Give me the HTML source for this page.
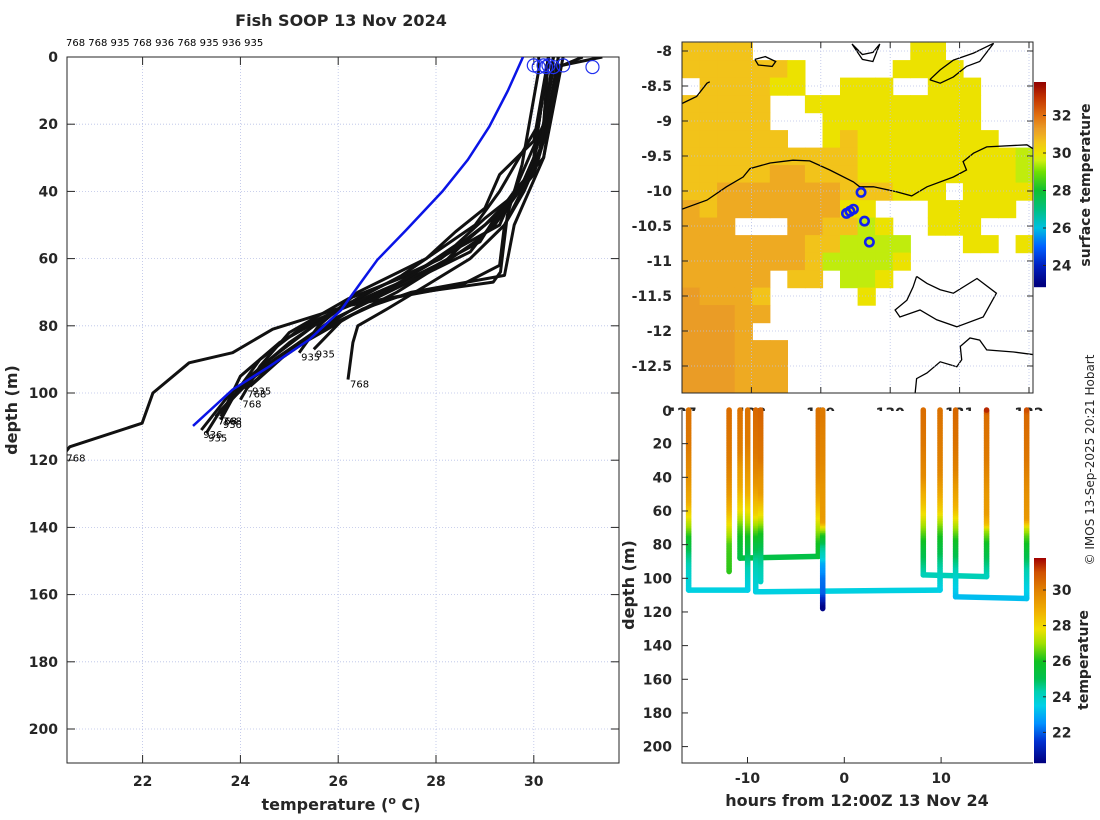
<!DOCTYPE html>
<html><head><meta charset="utf-8">
<style>
html,body{margin:0;padding:0;background:#fff;}
svg{display:block;font-family:"DejaVu Sans","Liberation Sans",sans-serif;}
.tk{font-size:14px;font-weight:bold;fill:#262626;}
.lb{font-size:16px;font-weight:bold;fill:#262626;}
</style></head>
<body>
<svg id="chart" width="1100" height="820" viewBox="0 0 1100 820" xmlns="http://www.w3.org/2000/svg">
<defs>
<clipPath id="clipL"><rect x="67" y="57" width="552" height="706"/></clipPath>
<clipPath id="clipM"><rect x="682" y="42" width="351" height="351"/></clipPath>
<clipPath id="clipB"><rect x="682" y="400" width="351" height="363"/></clipPath>
<clipPath id="clipLon"><rect x="600" y="395" width="460" height="16"/></clipPath>
</defs>
<rect x="0" y="0" width="1100" height="820" fill="#fff"/>
<g id="gL"></g>
<g id="gM"></g>
<g id="gB"></g>
</svg>
<script>
// ---------- data ----------
const castIds   = ['768','768','935','768','936','768','935','768','935','768','936','768','935'];
const castHours = [-16.08,-11.9,-10.77,-9.98,-9.15,-8.64,-2.68,-2.23,8.16,9.89,11.5,14.7,18.84];
const castDepths = [
 [0,20,30,40,48,55,62,70,76,85,95,107],
 [0,30,40,50,60,68,75,80,85,96],
 [0,25,35,45,52,60,70,80,88],
 [0,20,30,40,50,58,65,75,85,95,107],
 [0,25,35,45,55,62,70,80,90,100,108],
 [0,30,40,50,58,64,72,82,92,102],
 [0,30,40,50,55,60,70,78,87],
 [0,4,32,47,64,67,70,74,81,88,91,100,109,116,118],
 [0,20,30,40,48,56,65,75,85,98],
 [0,30,38,50,60,70,80,90,107],
 [0,20,35,45,58,68,78,90,100,111],
 [0,3,30,50,62,68,72,80,90,99],
 [0,3,30,50,65,70,75,85,95,105,112]
];
const castTemps = [
 [30.3,30.2,29.9,29.6,29.2,28.9,28.0,26.9,25.9,24.8,24.0,23.6],
 [30.4,30.1,29.8,29.4,28.7,27.8,27.0,26.4,26.3,26.2],
 [30.3,30.0,29.3,29.0,28.4,27.8,26.4,25.6,25.2],
 [30.3,30.1,29.7,29.3,28.8,28.0,27.3,26.0,25.0,24.2,23.5],
 [30.5,30.2,29.9,29.4,28.6,28.1,26.8,25.3,24.4,23.9,23.6],
 [30.6,30.2,29.6,29.3,28.3,27.6,26.2,25.0,24.4,24.0],
 [30.3,30.0,29.7,29.2,28.8,28.3,27.2,26.1,25.5],
 [30.1,30.1,29.76,29.46,29.32,29.17,27.69,26.2,24.66,23.84,22.95,22.21,21.99,20.51,20.4],
 [30.4,30.2,30.0,29.7,29.0,28.4,27.5,26.3,25.2,24.2],
 [30.3,30.0,29.8,29.0,28.1,26.6,25.5,24.6,23.5],
 [30.5,30.3,30.0,29.4,28.7,27.3,25.9,24.7,23.8,23.2],
 [31.4,30.4,30.1,29.4,29.3,28.5,27.0,25.8,24.8,24.1],
 [31.0,30.5,30.2,29.6,29.4,27.5,26.5,25.3,24.3,23.6,23.3]
];
const climDepth = [0,10,20.7,30.6,40,51.5,60.4,66.4,75.3,84.2,92.2,99,109.8];
const climTemp  = [29.78,29.47,29.09,28.65,28.13,27.39,26.8,26.5,26.06,25.4,24.58,23.84,23.03];
const surfTemps = [30.0,30.1,30.2,30.25,30.3,30.4,30.6,31.2];
const topLabels = '768 768 935 768 936 768 935 936 935';
const connFrom = [0,2,4,8,10];
const connTo   = [3,6,9,11,12];
const tempTicks = [22,24,26,28,30];
const depthTicks = [0,20,40,60,80,100,120,140,160,180,200];
const latTicks = [-8,-8.5,-9,-9.5,-10,-10.5,-11,-11.5,-12,-12.5];
const lonTicks = [127,128,129,130,131,132];
const sstTicks = [24,26,28,30,32];
const hourTicks = [-10,0,10];
const tempCbTicks = [22,24,26,28,30];
const fishLon = [129.58,129.37,129.47,129.42,129.63,129.70];
const fishLat = [-10.02,-10.32,-10.26,-10.29,-10.43,-10.73];
// SST grid: '.' = no data
const sstCodes = {a:29.5,b:30.0,c:30.6,d:31.0,e:31.3};
const sstRows = [
 "cccc.........bb.....",
 "ccccccb.....bbbb....",
 ".ccccbb..bbb..bbb...",
 "ccccc..bbbbbbbbbb...",
 "ccccc...bbbbbbbbb...",
 "cccccc..bcbbbbbbbb..",
 "ccccccccccbbbbbbbbba",
 "cccccddcccbbbbbbbbba",
 "ccdddddddcccbbb.bbbb",
 "dcdddddddbb...bbbbb.",
 "ddd...ddccab..bbb...",
 "dddddddccaaaa...bb.b",
 "dddddddcaaaab.......",
 "ddddd.cc.aab........",
 "edddc.....b.........",
 "eeedd...............",
 "eeed................",
 "eeeddd..............",
 "eeeddd..............",
 "eeeddd.............."
];
const coastMain = [[127.0,-10.26],[127.36,-10.13],[127.64,-9.94],[127.88,-9.80],[127.98,-9.68],[128.27,-9.60],[128.60,-9.56],[128.84,-9.57],[129.13,-9.70],[129.47,-9.87],[129.56,-9.94],[129.76,-9.94],[130.09,-10.01],[130.31,-10.07],[130.53,-9.94],[130.91,-9.80],[131.10,-9.70],[131.05,-9.58],[131.20,-9.46],[131.39,-9.37],[131.97,-9.34],[132.08,-9.41]];
const coastMelville = [[130.38,-11.22],[130.53,-11.32],[130.72,-11.41],[130.91,-11.46],[131.25,-11.25],[131.53,-11.46],[131.34,-11.80],[130.96,-11.94],[130.67,-11.84],[130.43,-11.70],[130.14,-11.80],[130.07,-11.70],[130.24,-11.56],[130.33,-11.37],[130.38,-11.22]];
const coastSouth = [[132.08,-12.34],[131.78,-12.30],[131.39,-12.27],[131.29,-12.13],[131.15,-12.10],[131.01,-12.22],[131.03,-12.41],[130.96,-12.51],[130.72,-12.44],[130.53,-12.60],[130.38,-12.68],[130.36,-12.88]];
const coastNW = [[127.0,-8.75],[127.21,-8.65],[127.36,-8.46],[127.40,-8.44]];
const coastNE = [[130.57,-8.41],[130.72,-8.27],[130.91,-8.13],[131.20,-8.03],[131.49,-7.89],[131.29,-8.15],[131.10,-8.22],[130.91,-8.37],[130.72,-8.46],[130.57,-8.41]];
const coastN1 = [[128.05,-8.12],[128.2,-8.08],[128.35,-8.15],[128.3,-8.22],[128.1,-8.2],[128.05,-8.12]];
const coastN2 = [[129.45,-7.9],[129.6,-8.05],[129.75,-8.02],[129.85,-7.9],[129.75,-8.15],[129.6,-8.12],[129.45,-7.9]];

// ---------- scales ----------
const tx = t => 142.6 + (t - 22) * 48.9;
const dy = d => 57 + d * 3.36;
const lonX = l => 682 + (l - 127) * 69.4;
const latY = la => 51 + (-8 - la) * 70;
const hx = h => 844.3 + h * 9.68;
const bd = d => 410 + d * 1.683;
const ctY = t => 153 - (t - 30) * 18.75;
const cbY = t => 590 - (t - 30) * 17.8;

const NS = 'http://www.w3.org/2000/svg';
function mk(tag, attrs, parent, txt) {
  const e = document.createElementNS(NS, tag);
  for (const k in attrs) e.setAttribute(k, attrs[k]);
  if (txt !== undefined) e.textContent = txt;
  parent.appendChild(e);
  return e;
}
function interp(ds, ts, d) {
  if (d <= ds[0]) return ts[0];
  for (let i = 1; i < ds.length; i++) if (d <= ds[i]) { const f = (d - ds[i-1]) / (ds[i] - ds[i-1]); return ts[i-1] + f * (ts[i] - ts[i-1]); }
  return ts[ts.length - 1];
}
function hex(c){return [parseInt(c.slice(1,3),16),parseInt(c.slice(3,5),16),parseInt(c.slice(5,7),16)];}
function cmap(stops, t) {
  if (t <= stops[0][0]) return stops[0][1];
  for (let i = 1; i < stops.length; i++) if (t <= stops[i][0]) {
    const f = (t - stops[i-1][0]) / (stops[i][0] - stops[i-1][0]);
    const a = hex(stops[i-1][1]), b = hex(stops[i][1]);
    return 'rgb(' + a.map((v,j)=>Math.round(v + f*(b[j]-v))).join(',') + ')';
  }
  return stops[stops.length-1][1];
}
const mapStops = [[23,'#000080'],[24,'#0020c0'],[25,'#0060ff'],[26,'#00c0e0'],[27,'#00c080'],[28,'#10c030'],[29,'#70e000'],[29.6,'#d0ee10'],[30,'#ece200'],[30.6,'#f2c31a'],[31.0,'#eeaa22'],[31.3,'#ea9c26'],[32,'#e07010'],[33,'#c03000'],[33.8,'#900000']];
const bStops = [[20.3,'#000080'],[21.5,'#0030d0'],[22.5,'#0090ff'],[23.5,'#00d0e8'],[24.3,'#00d0b0'],[25,'#00c050'],[26,'#10c020'],[27,'#a0e000'],[27.8,'#f0e000'],[28.8,'#f0b000'],[30,'#e08000'],[31,'#d05000'],[31.8,'#a00000']];

// ================= LEFT PANEL =================
const gL = document.getElementById('gL');
const ttl = mk('text',{x:341,y:26,'text-anchor':'middle',class:'lb'},gL,'Fish SOOP 13 Nov 2024');


const tl = mk('text',{x:66,y:46,'font-size':'10px',fill:'#000'},gL,topLabels);


tempTicks.forEach(t => {
  const g = mk('line',{x1:tx(t),x2:tx(t),y1:57,y2:763,stroke:'#b8c0e6','stroke-width':0.8,'stroke-dasharray':'1,2'},gL);
  
  
  mk('line',{x1:tx(t),x2:tx(t),y1:763,y2:755,stroke:'#262626'},gL);
  mk('line',{x1:tx(t),x2:tx(t),y1:57,y2:65,stroke:'#262626'},gL);
  const l = mk('text',{x:tx(t),y:786,'text-anchor':'middle',class:'tk'},gL,String(t));
  
  
});
depthTicks.forEach(d => {
  const g = mk('line',{x1:67,x2:619,y1:dy(d),y2:dy(d),stroke:'#b8c0e6','stroke-width':0.8,'stroke-dasharray':'1,2'},gL);
  
  
  mk('line',{x1:67,x2:75,y1:dy(d),y2:dy(d),stroke:'#262626'},gL);
  mk('line',{x1:611,x2:619,y1:dy(d),y2:dy(d),stroke:'#262626'},gL);
  const l = mk('text',{x:58,y:dy(d)+5,'text-anchor':'end',class:'tk'},gL,String(d));
  
  
});
const frameL = mk('rect',{x:67,y:57,width:552,height:706,fill:'none',stroke:'#262626','stroke-width':1},gL);


const pl = mk('g',{'clip-path':'url(#clipL)'},gL);
castDepths.forEach((ds, i) => {
  const pts = ds.map((d, j) => tx(castTemps[i][j]).toFixed(1) + ',' + dy(d).toFixed(1)).join(' ');
  const p = mk('polyline',{points:pts,fill:'none',stroke:'#111','stroke-width':3,'stroke-linejoin':'round'},pl);
  
  
  const last = ds.length - 1;
  const ex = tx(castTemps[i][last]), ey = dy(ds[last]);
  const lab = mk('text',{x:ex+2,y:ey+8,'font-size':'10px',fill:'#000'},gL,castIds[i]);
  
  
});
const cl = mk('polyline',{points:climDepth.map((d,j)=>tx(climTemp[j]).toFixed(1)+','+dy(d).toFixed(1)).join(' '),fill:'none',stroke:'#0a14e6','stroke-width':2.5},pl);


surfTemps.forEach((t, i) => {
  const c = mk('circle',{cx:tx(t),cy:dy(i%2?3:2.5),r:6.5,fill:'none',stroke:'#2030f0','stroke-width':1.2},gL);
  
  
});
const xl = mk('text',{x:341,y:810,'text-anchor':'middle',class:'lb'},gL);
xl.innerHTML = 'temperature (<tspan dy="-6" font-size="11px">o</tspan><tspan dy="6"> C)</tspan>';


const yl = mk('text',{x:0,y:0,'text-anchor':'middle',class:'lb',transform:'translate(17,410) rotate(-90)'},gL,'depth (m)');



// ================= MAP PANEL =================
const gM = document.getElementById('gM');
const mapClip = mk('g',{'clip-path':'url(#clipM)'},gM);
const dLon = 5.06 / 20, dLat = 5.0 / 20;
sstRows.forEach((row, r) => {
  for (let c = 0; c < row.length; c++) {
    const ch = row[c];
    if (ch === '.') continue;
    const lon0 = 127 + c * dLon, lat0 = -7.88 - r * dLat;
    const x0 = lonX(lon0), y0 = latY(lat0);
    const cell = mk('rect',{x:x0.toFixed(1),y:y0.toFixed(1),width:(lonX(lon0+dLon)-x0+0.6).toFixed(1),height:(latY(lat0-dLat)-y0+0.6).toFixed(1),fill:cmap(mapStops, sstCodes[ch])},mapClip);
    
    
  }
});
latTicks.forEach(la => {
  mk('line',{x1:682,x2:1033,y1:latY(la),y2:latY(la),stroke:'#b8c0e6','stroke-width':0.8,'stroke-dasharray':'1,2'},gM);
  mk('line',{x1:682,x2:688,y1:latY(la),y2:latY(la),stroke:'#262626'},gM);
  mk('line',{x1:1027,x2:1033,y1:latY(la),y2:latY(la),stroke:'#262626'},gM);
  const l = mk('text',{x:672,y:latY(la)+5,'text-anchor':'end',class:'tk','font-size':'15px'},gM,String(la));
  
  
});
const lonLabG = mk('g',{'clip-path':'url(#clipLon)'},gM);
lonTicks.forEach(lo => {
  mk('line',{x1:lonX(lo),x2:lonX(lo),y1:42,y2:393,stroke:'#b8c0e6','stroke-width':0.8,'stroke-dasharray':'1,2'},gM);
  mk('line',{x1:lonX(lo),x2:lonX(lo),y1:42,y2:48,stroke:'#262626'},gM);
  mk('line',{x1:lonX(lo),x2:lonX(lo),y1:387,y2:393,stroke:'#262626'},gM);
  const l = mk('text',{x:lonX(lo),y:418,'text-anchor':'middle',class:'tk','font-size':'15px'},lonLabG,String(lo));
  
  
});
[[coastMain,'coast-shelf-edge'],[coastMelville,'coast-melville-island'],[coastSouth,'coast-mainland'],[coastNW,'coast-timor'],[coastNE,'coast-island-ne'],[coastN1,'coast-island-n1'],[coastN2,'coast-island-n2']].forEach(([pts,name]) => {
  const p = mk('polyline',{points:pts.map(q=>lonX(q[0]).toFixed(1)+','+latY(q[1]).toFixed(1)).join(' '),fill:'none',stroke:'#000','stroke-width':1.3},mapClip);
  
  
});
fishLon.forEach((lo, i) => {
  const c = mk('circle',{cx:lonX(lo),cy:latY(fishLat[i]),r:4.2,fill:'none',stroke:'#1020f0','stroke-width':2.6},gM);
  
  
});
const frameM = mk('rect',{x:682,y:42,width:351,height:351,fill:'none',stroke:'#262626','stroke-width':1},gM);


// SST colorbar
const cbTop = mk('g',{},gM);


for (let y = 82; y < 287; y++) {
  const t = 30 - (y + 0.5 - 153) / 18.75;
  mk('rect',{x:1034,y:y,width:12,height:1.2,fill:cmap(mapStops,t)},cbTop);
}
sstTicks.forEach(t => {
  mk('line',{x1:1043,x2:1046,y1:ctY(t),y2:ctY(t),stroke:'#262626'},cbTop);
  const l = mk('text',{x:1052,y:ctY(t)+5,class:'tk'},cbTop,String(t));
  
  
});
const st = mk('text',{x:0,y:0,'text-anchor':'middle',class:'tk','font-size':'15px',transform:'translate(1090,185) rotate(-90)'},gM,'surface temperature');


const cp = mk('text',{x:0,y:0,'text-anchor':'middle','font-size':'12px',fill:'#262626',transform:'translate(1094,460) rotate(-90)'},gM,'© IMOS 13-Sep-2025 20:21 Hobart');



// ================= TIME-DEPTH PANEL =================
const gB = document.getElementById('gB');
const bc = mk('g',{'clip-path':'url(#clipB)'},gB);
connFrom.forEach((a, k) => {
  const b = connTo[k];
  const da = castDepths[a][castDepths[a].length-1], db = castDepths[b][castDepths[b].length-1];
  const ta = castTemps[a][castTemps[a].length-1];
  const ln = mk('line',{x1:hx(castHours[a]),y1:bd(da),x2:hx(castHours[b]),y2:bd(db),stroke:cmap(bStops,ta),'stroke-width':5.5,'stroke-linecap':'round'},bc);
  
  
});
castHours.forEach((h, i) => {
  const g = mk('g',{},bc);
  
  
  const ds = castDepths[i], maxD = ds[ds.length-1];
  for (let d = 0; d < maxD; d += 1) {
    const t = interp(ds, castTemps[i], d + 0.5);
    mk('line',{x1:hx(h),x2:hx(h),y1:bd(d),y2:bd(Math.min(d+1.3,maxD)),stroke:cmap(bStops,t),'stroke-width':5.5},g);
  }
  mk('circle',{cx:hx(h),cy:bd(0),r:2.75,fill:cmap(bStops,castTemps[i][0])},g);
  mk('circle',{cx:hx(h),cy:bd(maxD),r:2.75,fill:cmap(bStops,castTemps[i][castTemps[i].length-1])},g);
});
depthTicks.slice(1).forEach(d => {
  mk('line',{x1:682,x2:688,y1:bd(d),y2:bd(d),stroke:'#262626'},gB);
  const l = mk('text',{x:672,y:bd(d)+5,'text-anchor':'end',class:'tk','font-size':'15px'},gB,String(d));
  
  
});
const z = mk('text',{x:672,y:bd(0)+6,'text-anchor':'end',class:'tk','font-size':'15px'},gB,'0');


hourTicks.forEach(h => {
  mk('line',{x1:hx(h),x2:hx(h),y1:763,y2:757,stroke:'#262626'},gB);
  const l = mk('text',{x:hx(h),y:783,'text-anchor':'middle',class:'tk','font-size':'15px'},gB,String(h));
  
  
});
const ax1 = mk('polyline',{points:'682,410 682,763 1033,763',fill:'none',stroke:'#262626','stroke-width':1},gB);


const hxl = mk('text',{x:857,y:806,'text-anchor':'middle',class:'lb','font-size':'17px'},gB,'hours from 12:00Z 13 Nov 24');


const dyl = mk('text',{x:0,y:0,'text-anchor':'middle',class:'lb','font-size':'17px',transform:'translate(634,585) rotate(-90)'},gB,'depth (m)');


const cbB = mk('g',{},gB);


for (let y = 558; y < 763; y++) {
  const t = 30 - (y + 0.5 - 590) / 17.8;
  mk('rect',{x:1034,y:y,width:12,height:1.2,fill:cmap(bStops,t)},cbB);
}
tempCbTicks.forEach(t => {
  mk('line',{x1:1043,x2:1046,y1:cbY(t),y2:cbY(t),stroke:'#262626'},cbB);
  const l = mk('text',{x:1052,y:cbY(t)+5,class:'tk','font-size':'13px'},cbB,String(t));
  
  
});
const tt = mk('text',{x:0,y:0,'text-anchor':'middle',class:'tk','font-size':'15px',transform:'translate(1088,660) rotate(-90)'},gB,'temperature');


</script>
</body></html>
